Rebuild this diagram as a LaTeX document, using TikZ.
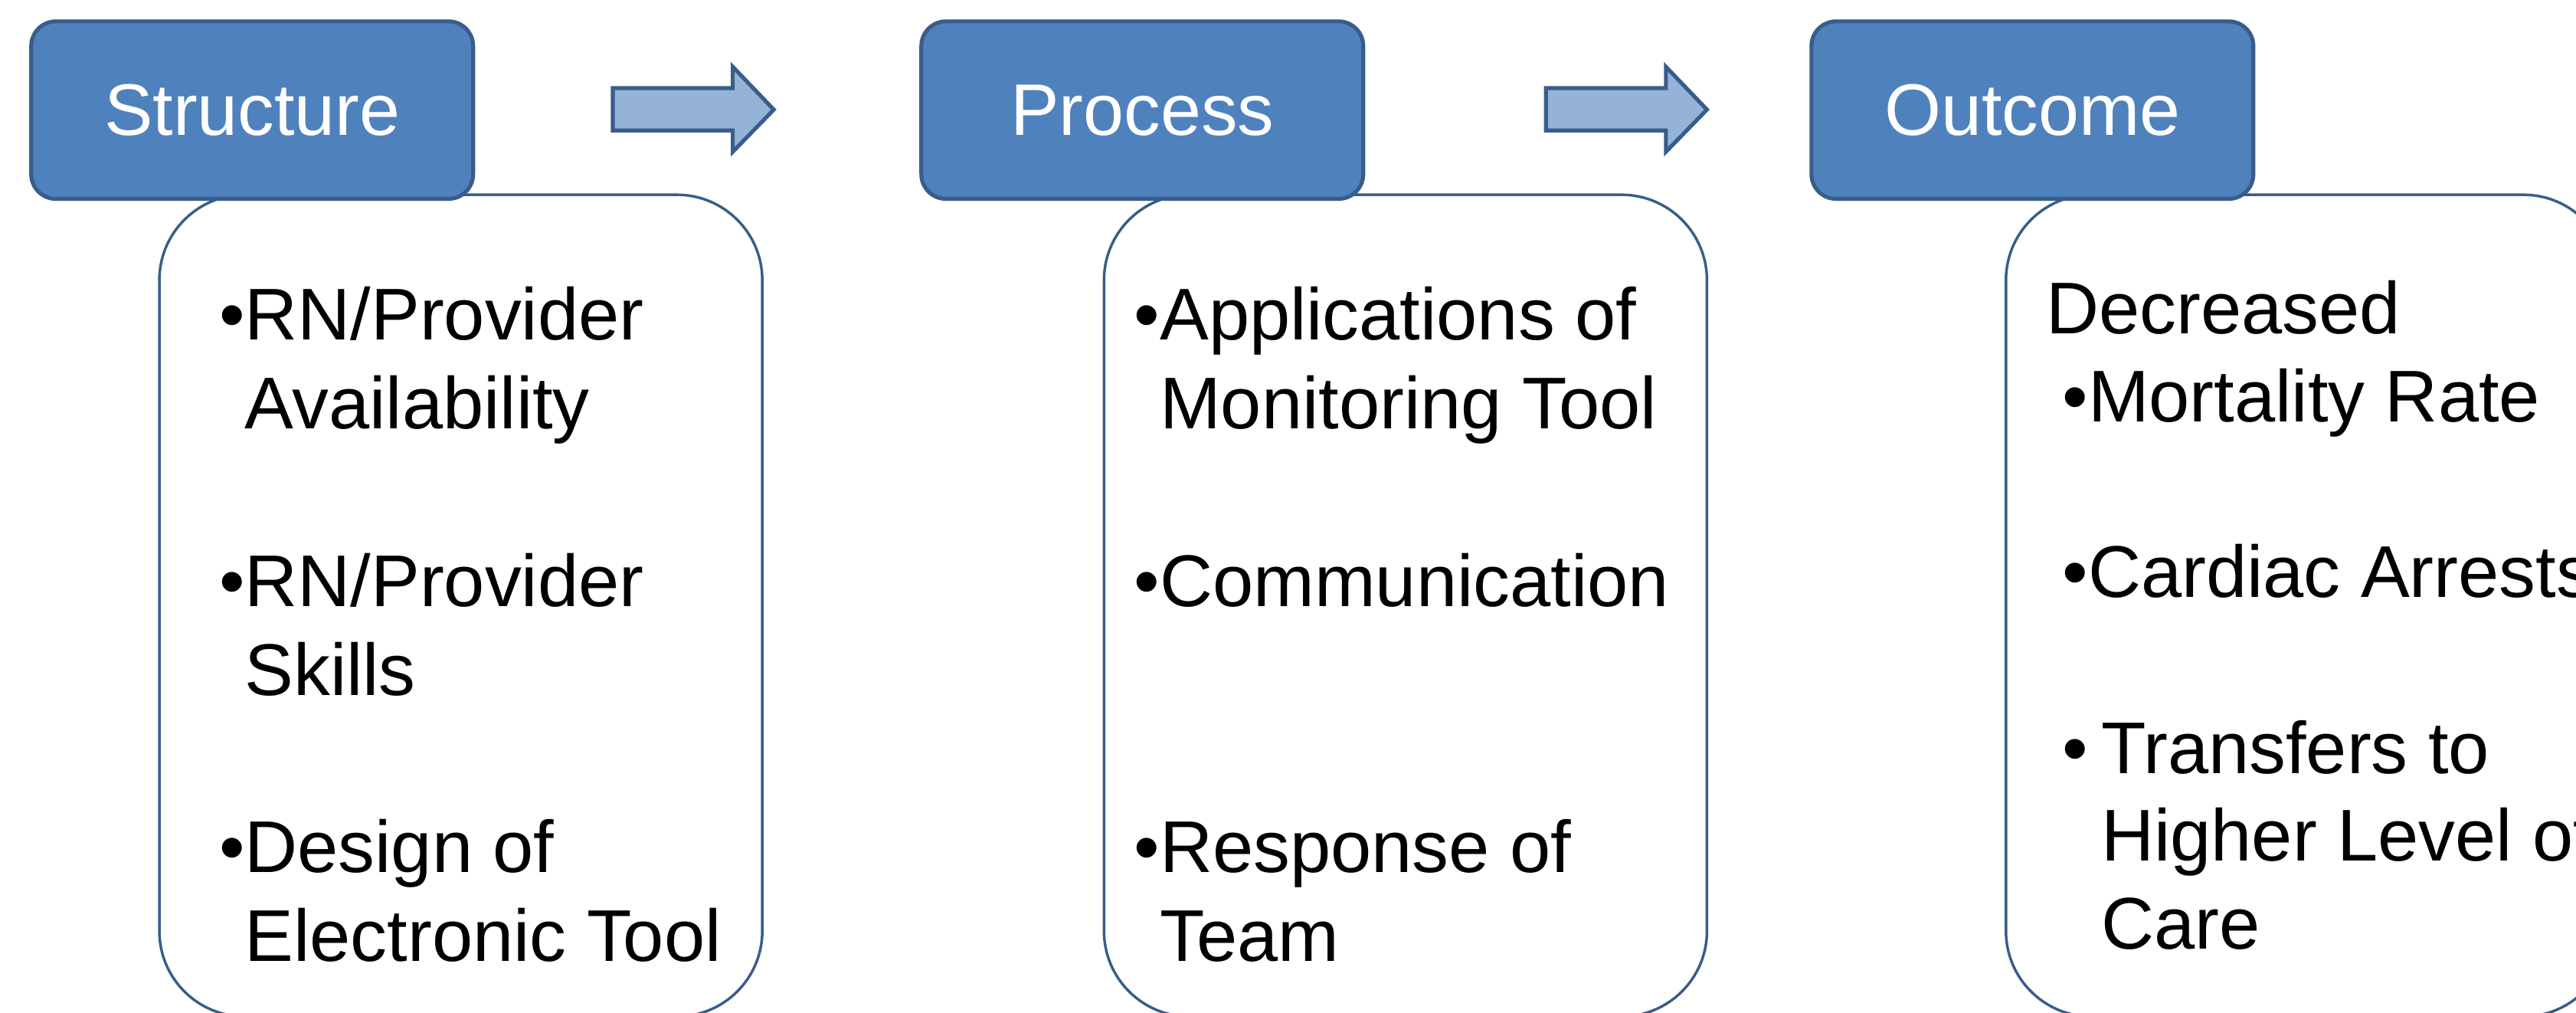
\documentclass[tikz,border=0pt]{standalone}
\usepackage{fontspec}
\setmainfont{Liberation Sans}
\usetikzlibrary{positioning}
\definecolor{hdrblue}{HTML}{4F81BD}
\definecolor{edgeblue}{HTML}{385D8A}
\definecolor{arrowblue}{HTML}{95B3D7}
\tikzset{
  header/.style={
    draw=edgeblue,
    line width=1.2pt,
    fill=hdrblue,
    rounded corners=7.5pt,
    minimum width=134.5pt,
    minimum height=54pt,
    inner sep=0pt,
    text=white,
    font=\fontsize{22.2}{27}\selectfont
  },
  body/.style={
    draw=edgeblue,
    line width=0.8pt,
    fill=white,
    rounded corners=26pt,
    minimum width=183.5pt,
    minimum height=250pt,
    inner sep=0pt
  },
  itemtext/.style={
    inner sep=0pt,
    anchor=base west,
    font=\fontsize{22.3}{27}\selectfont
  },
  flowarrow/.style={
    draw=edgeblue,
    line width=1.2pt,
    fill=arrowblue,
    line join=miter
  }
}

\begin{document}
\begin{tikzpicture}[x=0.5pt,y=-0.5pt,node distance=135.2pt]
    \useasboundingbox (0,0) rectangle (1568,616);

    % content boxes, under the headers
    \path{
      node[body] (s_body) at (280.5,368.5) {}
      node[body] (p_body) at (855.5,368.5) {}
      node[body] (o_body) at (1404.5,368.5) {}
    };

    \path{
      node[header] (s_head) at (153.5,67) {Structure}
      node[header] (p_head) [right=of s_head] {Process}
      node[header] (o_head) [right=of p_head] {Outcome}
    };

    \foreach \x in {373,941}
      \draw[flowarrow] (\x,53.6) -- ++(73,0) -- ++(0,-13) -- ++(25,26.1)
        -- ++(-25,25.7) -- ++(0,-13) -- ++(-73,0) -- cycle;

    \node[itemtext] (s_txt) at (133,207) {\begin{tabular}[t]{@{}l@{}l@{}}
      •&RN/Provider\\ &Availability\\ \\
      •&RN/Provider\\ &Skills\\ \\
      •&Design of\\ &Electronic Tool
    \end{tabular}};

    \node[itemtext] (p_txt) at (690,207) {\begin{tabular}[t]{@{}l@{}l@{}}
      •&Applications of\\ &Monitoring Tool\\ \\
      •&Communication\\ \\ \\
      •&Response of\\ &Team
    \end{tabular}};

    \node[itemtext,font=\fontsize{22.3}{26.75}\selectfont] (o_txt) at (1245,203) {\begin{tabular}[t]{@{}l@{}l@{}}
      \multicolumn{2}{@{}l@{}}{Decreased}\\
      \hspace*{5pt}•&Mortality Rate\\ \\
      \hspace*{5pt}•&Cardiac Arrests\\ \\
      \hspace*{5pt}•&\hspace*{4pt}Transfers to\\
      &\hspace*{4pt}Higher Level of\\
      &\hspace*{4pt}Care
    \end{tabular}};
\end{tikzpicture}
\end{document}
